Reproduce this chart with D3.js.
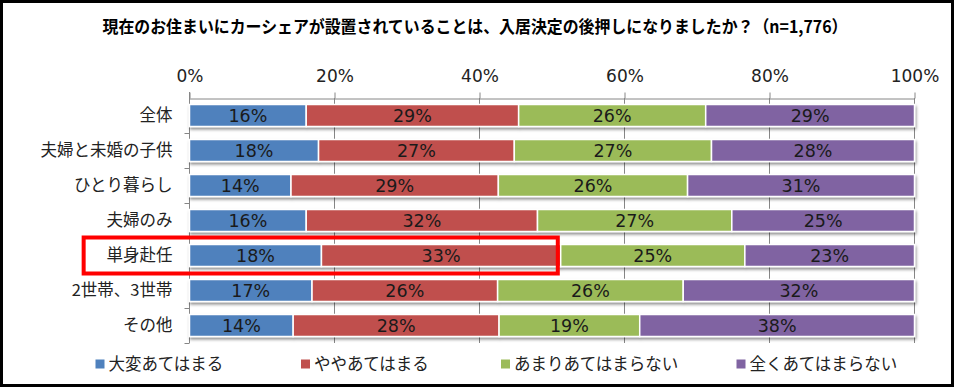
<!DOCTYPE html>
<html><head><meta charset="utf-8">
<script src="https://cdn.jsdelivr.net/npm/d3@7"></script>
<style>
html,body{margin:0;padding:0;background:#fff;}
svg{display:block;}
</style></head>
<body>
<svg id="chart" width="954" height="387"></svg>
<script>
const title = "現在のお住まいにカーシェアが設置されていることは、入居決定の後押しになりましたか？（n=1,776）";
const categories = ["全体","夫婦と未婚の子供","ひとり暮らし","夫婦のみ","単身赴任","2世帯、3世帯","その他"];
const seriesNames = ["大変あてはまる","ややあてはまる","あまりあてはまらない","全くあてはまらない"];
const colors = ["#4F81BD","#C0504D","#9BBB59","#8064A2"];
const s1 = [16.1, 17.8, 14.0, 16.1, 18.2, 16.9, 14.3];
const s2 = [29.3, 27.0, 28.6, 31.9, 33.0, 25.6, 28.4];
const s3 = [25.8, 27.2, 26.1, 26.8, 25.4, 25.6, 19.4];
const s4 = [28.8, 28.0, 31.3, 25.2, 23.4, 31.9, 37.9];
const tickValues = [0,20,40,60,80,100];
const highlightCategory = "単身赴任";
const highlightExtent = [-14.6, 50.8];

const svg = d3.select("#chart");
const W = 954, H = 387;
const series = [s1,s2,s3,s4];

const x = d3.scaleLinear().domain([0,100]).range([189.5, 914.5]);
const y = d3.scaleBand().domain(categories).range([98, 343]).paddingInner(13/35).paddingOuter(6.5/35);
const yIdx = d3.scaleLinear().domain([0, categories.length]).range([98, 343]);

const defs = svg.append("defs");
const f = defs.append("filter").attr("id","sh").attr("x","-5%").attr("y","-30%").attr("width","110%").attr("height","180%");
f.append("feDropShadow").attr("dx",1).attr("dy",2.2).attr("stdDeviation",1.4).attr("flood-color","#000").attr("flood-opacity",0.45);

svg.append("rect").attr("width",W).attr("height",H).attr("fill","#fff");

// title
svg.append("text").attr("x", 475).attr("y", 33).attr("text-anchor","middle")
  .attr("font-family","'Noto Sans CJK JP', sans-serif").attr("font-weight","bold").attr("font-size",17)
  .attr("fill","#000").attr("textLength",745).attr("lengthAdjust","spacingAndGlyphs").text(title);

// gridlines
svg.append("g").selectAll("line").data(tickValues).join("line")
  .attr("x1", d=>x(d)).attr("x2", d=>x(d)).attr("y1", 98).attr("y2", 343)
  .attr("stroke","#868686").attr("stroke-width",1);

// top axis
const xAxis = svg.append("g").attr("transform","translate(0,98.5)")
  .call(d3.axisTop(x).tickValues(tickValues).tickSize(6).tickSizeOuter(0).tickFormat(d=>d+"%"));
xAxis.select(".domain").attr("stroke","#868686");
xAxis.selectAll(".tick line").attr("stroke","#868686");
xAxis.selectAll(".tick text").attr("y",-17).attr("font-family","'DejaVu Sans', sans-serif")
  .attr("font-size",17).attr("fill","#222");

// left axis
const yAxis = svg.append("g").attr("transform","translate(189.5,0)")
  .call(d3.axisLeft(yIdx).tickValues(d3.range(1, categories.length+1)).tickSize(5).tickSizeOuter(0).tickFormat(""));
yAxis.select(".domain").attr("stroke","#868686").attr("d","M0,92V343");
yAxis.selectAll(".tick line").attr("stroke","#868686");

// category labels
svg.append("g").selectAll("text").data(categories).join("text")
  .attr("x", 172.5).attr("y", d=>y(d)+y.bandwidth()/2).attr("dy","0.36em")
  .attr("text-anchor","end").attr("font-family","'Noto Sans CJK JP', sans-serif")
  .attr("font-size",16.5).attr("fill","#222").text(d=>d);

// stacked bars
const rows = categories.map((c,i)=>{
  let acc = 0;
  return series.map((s,k)=>{ const seg = {cat:c, k, x0:acc, x1:acc+s[i], v:s[i]}; acc += s[i]; return seg; });
});
const barG = svg.append("g");
rows.forEach(segs=>{
  const g = barG.append("g").attr("filter","url(#sh)");
  g.selectAll("rect").data(segs).join("rect")
    .attr("x", d=>x(d.x0)).attr("width", d=>x(d.x1)-x(d.x0))
    .attr("y", d=>y(d.cat)).attr("height", y.bandwidth())
    .attr("fill", d=>colors[d.k]).attr("stroke","#fff").attr("stroke-width",1.5);
});
rows.forEach(segs=>{
  barG.append("g").selectAll("text").data(segs).join("text")
    .attr("x", d=>(x(d.x0)+x(d.x1))/2).attr("y", d=>y(d.cat)+y.bandwidth()/2).attr("dy","0.37em")
    .attr("text-anchor","middle").attr("font-family","'DejaVu Sans', sans-serif").attr("font-size",17.5)
    .attr("fill","#1a1a1a").text(d=>Math.round(d.v)+"%");
});

// highlight box
svg.append("rect")
  .attr("x", x(highlightExtent[0])).attr("width", x(highlightExtent[1])-x(highlightExtent[0]))
  .attr("y", y(highlightCategory)-y.step()*0.2).attr("height", y.bandwidth()+y.step()*0.4)
  .attr("fill","none").attr("stroke","#FF0000").attr("stroke-width",4);

// legend
const legX = [95.5, 301, 501, 736.5];
const leg = svg.append("g").selectAll("g").data(seriesNames).join("g")
  .attr("transform",(d,i)=>`translate(${legX[i]},364)`);
leg.append("rect").attr("x",0).attr("y",-4.5).attr("width",9).attr("height",9).attr("fill",(d,i)=>colors[i]);
leg.append("text").attr("x",13).attr("y",0).attr("dy","0.36em")
  .attr("font-family","'Noto Sans CJK JP', sans-serif").attr("font-size",16.5).attr("fill","#222").text(d=>d);

// frame
svg.append("rect").attr("x",1.5).attr("y",1.5).attr("width",951).attr("height",384)
  .attr("fill","none").attr("stroke","#000").attr("stroke-width",3);
</script>
</body></html>
